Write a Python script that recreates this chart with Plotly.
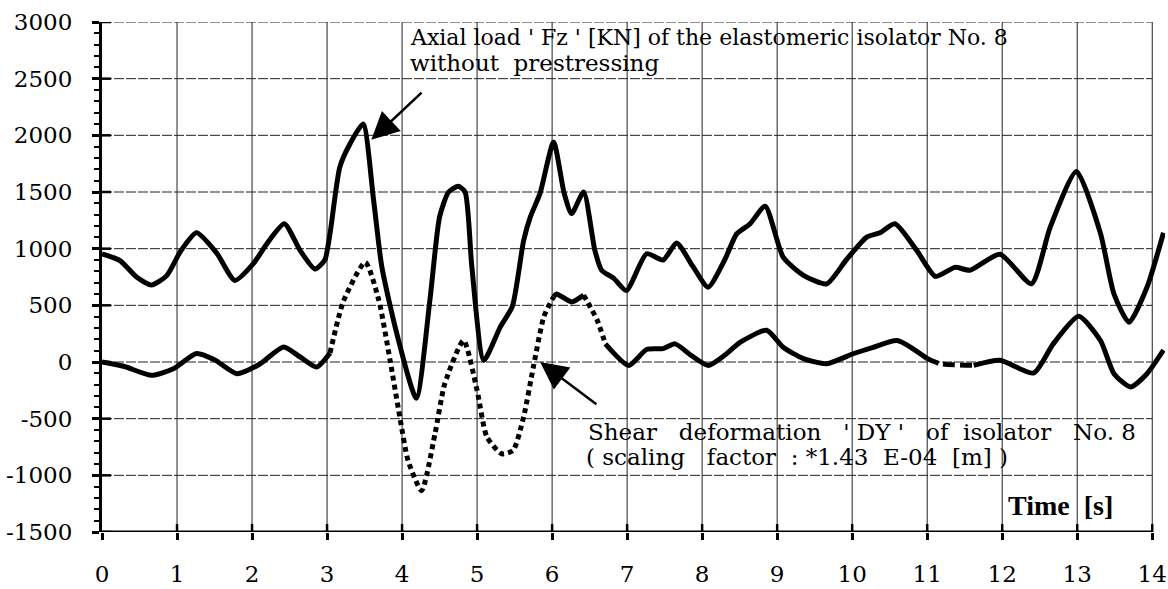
import plotly.graph_objects as go

# ---------------- data ----------------
axial_t = [0.00, 0.24, 0.46, 0.66, 0.86, 1.05, 1.26, 1.53, 1.77, 2.02, 2.20, 2.43, 2.64, 2.84,
           2.97, 3.04, 3.17, 3.31, 3.48, 3.62, 3.73, 3.93, 4.19, 4.37, 4.50, 4.62, 4.75, 4.84,
           4.93, 5.09, 5.31, 5.47, 5.62, 5.71, 5.84, 6.02, 6.16, 6.26, 6.42, 6.57, 6.66, 6.82,
           6.99, 7.26, 7.48, 7.66, 7.87, 8.08, 8.30, 8.46, 8.64, 8.84, 9.08, 9.35, 9.66, 9.92,
           10.19, 10.37, 10.57, 10.86, 11.11, 11.37, 11.57, 11.97, 12.39, 12.64, 12.99, 13.31,
           13.49, 13.69, 13.93, 14.15]
axial_fz = [955, 895, 750, 680, 760, 980, 1140, 960, 720, 870, 1046, 1220, 985, 820,
            900, 1135, 1720, 1930, 2100, 1430, 840, 250, -320, 540, 1280, 1500, 1550, 1500,
            840, 15, 310, 490, 1070, 1280, 1490, 1940, 1490, 1310, 1500, 985, 810, 740,
            630, 955, 900, 1050, 850, 660, 900, 1130, 1220, 1375, 925, 765, 690, 900,
            1100, 1140, 1220, 985, 755, 835, 810, 950, 690, 1190, 1680, 1135,
            600, 350, 660, 1140]

shear_t = [0.00, 0.30, 0.66, 0.95, 1.26, 1.50, 1.80, 2.10, 2.42, 2.65, 2.86, 3.04, 3.22, 3.51,
           3.69, 3.84, 3.97, 4.08, 4.26, 4.44, 4.57, 4.82, 5.00, 5.13, 5.33, 5.48, 5.62, 5.75,
           5.89, 6.02, 6.06, 6.26, 6.42, 6.60, 6.71, 7.02, 7.26, 7.48, 7.64, 7.85, 8.08, 8.30,
           8.51, 8.86, 9.08, 9.35, 9.66, 10.02, 10.28, 10.60, 11.00, 11.17, 11.62, 11.97, 12.42,
           12.68, 13.02, 13.31, 13.49, 13.71, 13.93, 14.15]
shear_dy = [0, -40, -118, -60, 75, 20, -103, -20, 132, 40, -45, 80, 540, 880,
            545, 15, -485, -870, -1135, -630, -190, 190, -250, -660, -810, -780, -485, -45,
            400, 575, 600, 530, 590, 370, 160, -30, 110, 118, 160, 60, -30, 60,
            175, 280, 130, 30, -15, 75, 130, 190, 30, -15, -30, 15, -97,
            160, 403, 190, -103, -220, -103, 105]

x_ticks = list(range(0, 15))
y_ticks = list(range(-1500, 3001, 500))
y_tick_text = [str(v) for v in y_ticks]

label_axial_1 = "Axial load ' Fz ' [KN] of the elastomeric isolator No. 8"
label_axial_2 = "without  prestressing"
label_shear_1 = "Shear   deformation   ' DY '   of  isolator   No. 8"
label_shear_2 = "( scaling   factor  : *1.43  E-04  [m] )"
label_time = "Time  [s]"

# ---------------- styling ----------------
FONT = "DejaVu Serif"
X_MAX = 14.17
LW = 5
shear_styles = [(0, 3.04, "solid"), (3.04, 6.02, "5px,4px"), (6.02, 6.42, "solid"),
                (6.42, 6.71, "5px,4px"), (6.71, 11.0, "solid"), (11.0, 11.62, "12px,5px"),
                (11.62, 14.15, "solid")]

def nb(s):
    out = []
    prev_space = False
    for ch in s:
        if ch == " ":
            out.append("&nbsp;" if prev_space else " ")
            prev_space = True
        else:
            out.append(ch)
            prev_space = False
    return "".join(out)

fig = go.Figure()
fig.add_trace(go.Scatter(x=axial_t, y=axial_fz, mode="lines",
                         line=dict(color="black", width=LW, shape="spline", smoothing=0.6),
                         showlegend=False, hoverinfo="skip"))
for t0, t1, dash in shear_styles:
    xs = [t for t in shear_t if t0 <= t <= t1]
    ys = [v for t, v in zip(shear_t, shear_dy) if t0 <= t <= t1]
    fig.add_trace(go.Scatter(x=xs, y=ys, mode="lines",
                             line=dict(color="black", width=LW, dash=dash,
                                       shape="spline", smoothing=0.6),
                             showlegend=False, hoverinfo="skip"))

shapes = []
for xv in x_ticks[1:]:
    shapes.append(dict(type="line", xref="x", yref="y", x0=xv, x1=xv, y0=-1500, y1=3000,
                       line=dict(color="#222", width=1), layer="below"))
for yv in y_ticks[1:]:
    shapes.append(dict(type="line", xref="x", yref="y", x0=0, x1=14, y0=yv, y1=yv,
                       line=dict(color="#222", width=1, dash="10px,2px"), layer="below"))
shapes.append(dict(type="line", xref="x", yref="y", x0=0, x1=14, y0=-1500, y1=-1500,
                   line=dict(color="black", width=3)))
for xv in x_ticks[1:]:
    shapes.append(dict(type="line", xref="x", yref="y", x0=xv, x1=xv, y0=-1500, y1=-1430,
                       line=dict(color="black", width=2.5)))
for yv in y_ticks:
    shapes.append(dict(type="line", xref="x", yref="y", x0=0, x1=0.12, y0=yv, y1=yv,
                       line=dict(color="black", width=2.5)))

tf = dict(family=FONT, size=23, color="black")
annotations = [
    dict(x=4.09, y=2860, xref="x", yref="y", text=nb(label_axial_1), showarrow=False,
         xanchor="left", yanchor="middle", font=dict(family=FONT, size=22, color="black"),
         borderpad=0),
    dict(x=4.09, y=2640, xref="x", yref="y", text=nb(label_axial_2), showarrow=False,
         xanchor="left", yanchor="middle", font=tf, borderpad=0),
    dict(x=6.47, y=-615, xref="x", yref="y", text=nb(label_shear_1), showarrow=False,
         xanchor="left", yanchor="middle", font=tf, borderpad=0),
    dict(x=6.44, y=-840, xref="x", yref="y", text=nb(label_shear_2), showarrow=False,
         xanchor="left", yanchor="middle", font=tf, borderpad=0),
    dict(x=12.05, y=-1270, xref="x", yref="y", text=nb(label_time), showarrow=False,
         xanchor="left", yanchor="middle",
         font=dict(family="Liberation Serif", size=28, color="black", weight="bold")),
    dict(x=3.59, y=1960, ax=4.28, ay=2390, xref="x", yref="y", axref="x", ayref="y",
         text="", showarrow=True, arrowhead=2, arrowsize=2.2, arrowwidth=2.5,
         arrowcolor="black", standoff=0),
    dict(x=5.84, y=0, ax=6.61, ay=-382, xref="x", yref="y", axref="x", ayref="y",
         text="", showarrow=True, arrowhead=2, arrowsize=2.2, arrowwidth=2.5,
         arrowcolor="black", standoff=0),
    dict(x=13.67, y=-1600, ax=12.04, ay=-1600, xref="x", yref="y", axref="x", ayref="y",
         text="", showarrow=True, arrowhead=2, arrowsize=1.6, arrowwidth=2.5,
         arrowcolor="black", standoff=0),
]

fig.update_layout(
    width=1168, height=589,
    margin=dict(l=102, r=3, t=22, b=57, autoexpand=False),
    paper_bgcolor="white", plot_bgcolor="white",
    font=dict(family=FONT, color="black"),
    shapes=shapes, annotations=annotations,
    xaxis=dict(range=[0, X_MAX], tickvals=x_ticks, showgrid=False, zeroline=False,
               showline=False, ticks="outside", ticklen=7, tickwidth=2.5, tickcolor="black",
               tickfont=tf, ticklabelstandoff=14, automargin=False),
    yaxis=dict(range=[-1500, 3000], tickvals=y_ticks, ticktext=y_tick_text,
               showgrid=False, zeroline=False,
               showline=True, linecolor="black", linewidth=3,
               ticks="outside", ticklen=7, tickwidth=2.5, tickcolor="black",
               minor=dict(dtick=100, ticks="outside", ticklen=5, tickwidth=2, tickcolor="black"),
               tickfont=tf, ticklabelstandoff=15, automargin=False),
)

fig.write_html("out.html", config={"displayModeBar": False},
               post_script="document.body.style.margin='0';document.body.style.overflow='hidden';")
